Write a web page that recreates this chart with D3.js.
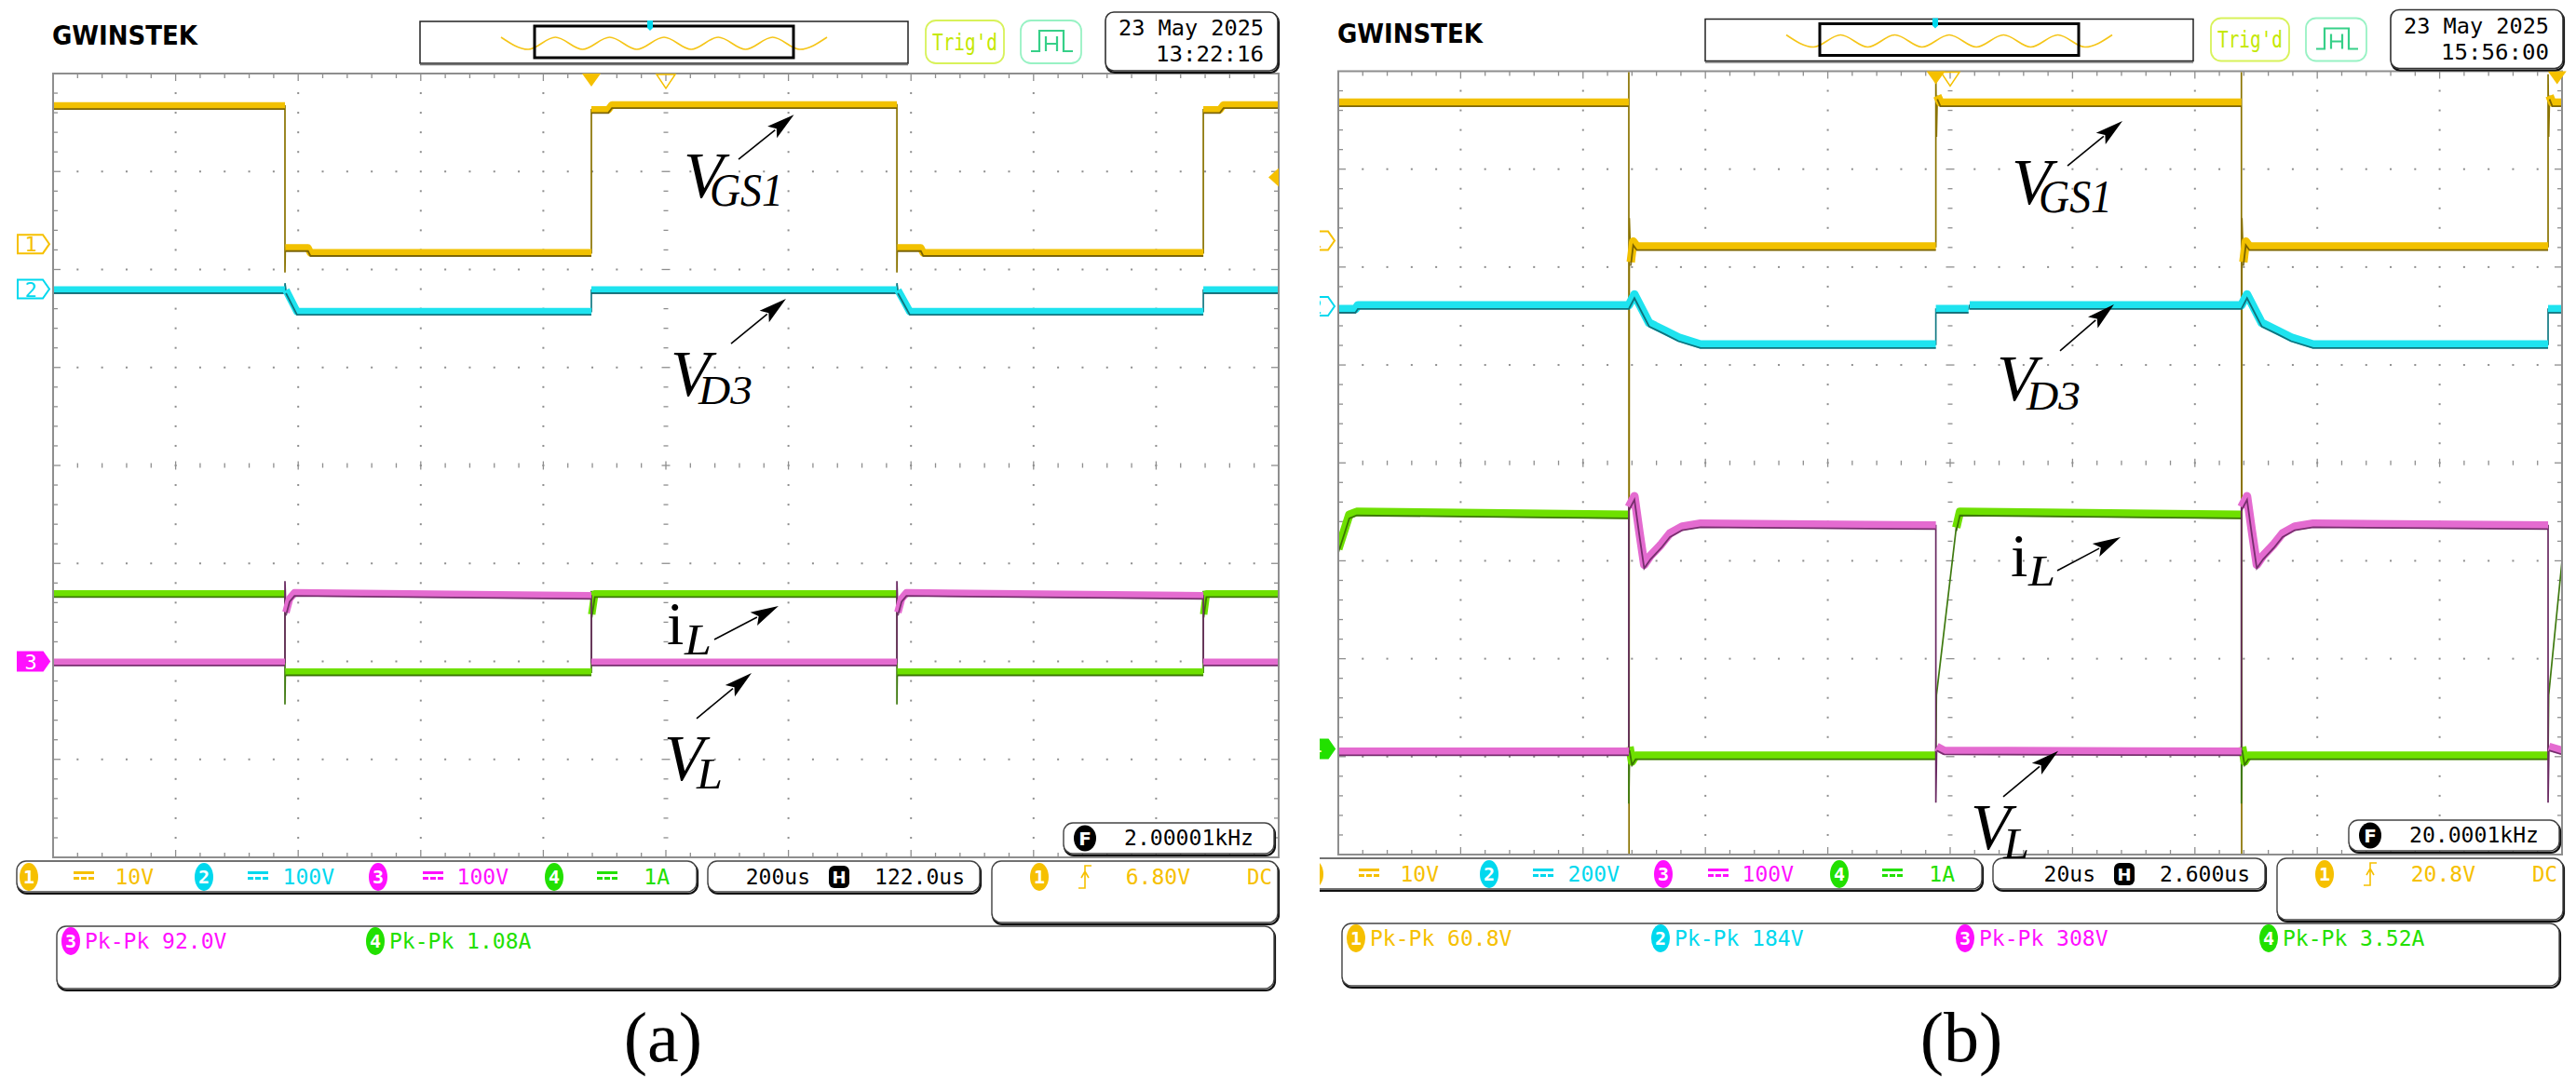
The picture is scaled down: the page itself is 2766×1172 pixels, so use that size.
<!DOCTYPE html>
<html><head><meta charset="utf-8">
<script src="https://cdn.jsdelivr.net/npm/d3@7"></script>
<style>body{margin:0;background:#fff}svg{display:block}</style>
</head><body>
<svg id="c" width="2766" height="1172"></svg>
<script>
// ===== DATA (time in screen divisions 0..10, level in divisions -4..4) =====
const aCh1 = [[0,3.67],[1.892,3.67],[1.892,1.97],[1.895,2.22],[2.08,2.22],[2.10,2.17],[4.392,2.17],[4.392,3.63],[4.53,3.63],[4.56,3.68],[6.885,3.68],[6.885,1.97],[6.888,2.22],[7.08,2.22],[7.10,2.17],[9.385,2.17],[9.385,3.63],[9.52,3.63],[9.55,3.68],[10,3.68]];
const aCh2 = [[0,1.79],[1.892,1.79],[1.892,1.86],[1.90,1.79],[1.99,1.57],[4.392,1.57],[4.392,1.79],[6.885,1.79],[6.885,1.86],[6.893,1.79],[6.99,1.57],[9.385,1.57],[9.385,1.79],[10,1.79]];
const aCh3 = [[0,-2.01],[1.892,-2.01],[1.892,-1.18],[1.90,-1.50],[1.93,-1.36],[1.97,-1.30],[4.392,-1.33],[4.392,-2.01],[6.885,-2.01],[6.885,-1.18],[6.893,-1.50],[6.923,-1.36],[6.963,-1.30],[9.385,-1.33],[9.385,-2.01],[10,-2.01]];
const aCh4 = [[0,-1.31],[1.892,-1.31],[1.892,-2.44],[1.895,-2.11],[4.392,-2.11],[4.392,-1.28],[4.395,-1.52],[4.42,-1.31],[6.885,-1.31],[6.885,-2.44],[6.888,-2.11],[9.385,-2.11],[9.385,-1.28],[9.388,-1.52],[9.41,-1.31],[10,-1.31]];

const bCh1 = [[0,3.68],[2.374,3.68],[2.374,4.0],[2.376,-4.0],[2.378,2.5],[2.39,2.05],[2.41,2.26],[2.44,2.21],[4.883,2.21],[4.883,3.97],[4.888,3.33],[4.895,3.75],[4.92,3.68],[7.38,3.68],[7.38,4.0],[7.382,-4.0],[7.384,2.5],[7.396,2.05],[7.416,2.26],[7.446,2.21],[9.886,2.21],[9.886,3.97],[9.891,3.33],[9.898,3.75],[9.92,3.68],[10,3.68]];
const bCh2 = [[0,1.57],[0.14,1.57],[0.16,1.61],[2.374,1.61],[2.42,1.72],[2.54,1.43],[2.67,1.35],[2.78,1.28],[2.96,1.21],[4.883,1.21],[4.883,1.57],[5.15,1.57],[5.16,1.61],[7.38,1.61],[7.426,1.72],[7.546,1.43],[7.676,1.35],[7.786,1.28],[7.966,1.21],[9.886,1.21],[9.886,1.57],[10,1.57]];
const bCh3 = [[0,-2.95],[2.374,-2.95],[2.374,-0.45],[2.42,-0.34],[2.46,-0.70],[2.50,-1.04],[2.55,-0.95],[2.64,-0.83],[2.71,-0.72],[2.81,-0.65],[2.96,-0.62],[4.883,-0.64],[4.883,-3.47],[4.89,-2.90],[4.95,-2.94],[7.38,-2.95],[7.38,-0.45],[7.426,-0.34],[7.466,-0.70],[7.506,-1.04],[7.556,-0.95],[7.646,-0.83],[7.716,-0.72],[7.816,-0.65],[7.966,-0.62],[9.886,-0.64],[9.886,-3.47],[9.893,-2.90],[10,-2.94]];
const bCh4 = [[0,-0.88],[0.09,-0.53],[0.15,-0.50],[2.374,-0.53],[2.374,-3.48],[2.38,-2.90],[2.40,-3.05],[2.43,-2.99],[4.883,-2.99],[4.888,-2.37],[5.05,-0.66],[5.08,-0.50],[7.38,-0.53],[7.38,-3.48],[7.386,-2.90],[7.406,-3.05],[7.436,-2.99],[9.886,-2.99],[9.891,-2.37],[10,-1.0]];

const aChannelScales = ["10V","100V","100V","1A"];
const bChannelScales = ["10V","200V","100V","1A"];
const aTimebase = ["200us","122.0us"];
const bTimebase = ["20us","2.600us"];
const aTrigger = ["6.80V","DC"];
const bTrigger = ["20.8V","DC"];
const aFreq = "2.00001kHz";
const bFreq = "20.0001kHz";
const aDate = ["23 May 2025","13:22:16"];
const bDate = ["23 May 2025","15:56:00"];
const aMeasure = [[3,"Pk-Pk 92.0V"],[4,"Pk-Pk 1.08A"]];
const bMeasure = [[1,"Pk-Pk 60.8V"],[2,"Pk-Pk 184V"],[3,"Pk-Pk 308V"],[4,"Pk-Pk 3.52A"]];
const aGroundMarkers = [[1,2.26],[2,1.80],[3,-2.00]];
const bGroundMarkers = [[1,2.27],[2,1.60],[4,-2.92]];
const aTrigLevel = [2.94];
const bTrigLevel = [];
const aTrigTimes = [4.392];
const bTrigTimes = [4.883, 9.96];
const overviewWave = [1,-1,1,-1,1,-1,1,-1,1,-1,1,-1,1];
const panelLetters = ["(a)","(b)"];

// annotation layout (positions in division units)
const aAnnot = [
 {main:'V',it:true,ms:70,sub:'GS1',ss:50,sw:79,m:[5.144,2.735],s:[5.357,2.650],from:[5.593,3.124],to:[6.045,3.580]},
 {main:'V',it:true,ms:70,sub:'D3',ss:45,sw:58,m:[5.038,0.712],s:[5.266,0.627],from:[5.532,1.244],to:[5.980,1.700]},
 {main:'i',it:false,ms:66,sub:'L',ss:47,sw:29,m:[5.008,-1.823],s:[5.152,-1.928],from:[5.395,-1.776],to:[5.919,-1.434]},
 {main:'V',it:true,ms:70,sub:'L',ss:47,sw:28,m:[4.985,-3.210],s:[5.251,-3.295],from:[5.251,-2.583],to:[5.699,-2.118]}
];
const bAnnot = [
 {main:'V',it:true,ms:70,sub:'GS1',ss:50,sw:79,m:[5.502,2.645],s:[5.723,2.560],from:[5.959,3.035],to:[6.408,3.492]},
 {main:'V',it:true,ms:70,sub:'D3',ss:45,sw:58,m:[5.381,0.640],s:[5.624,0.545],from:[5.898,1.144],to:[6.339,1.619]},
 {main:'i',it:false,ms:66,sub:'L',ss:47,sw:29,m:[5.495,-1.157],s:[5.639,-1.252],from:[5.875,-1.100],to:[6.393,-0.758]},
 {main:'V',it:true,ms:70,sub:'L',ss:47,sw:28,m:[5.167,-3.942],s:[5.434,-4.037],from:[5.434,-3.409],to:[5.883,-2.942]}
];

// ===== STYLE =====
const scopeFont = "'DejaVu Sans Mono','Liberation Mono',monospace";
const mathFont = "'Liberation Serif','DejaVu Serif',serif";
const chText = {1:'#f6c000',2:'#00d8ee',3:'#ff10ff',4:'#22e000'};
const chTrace = {
  1:{color:'#f2c100',dark:'#5e4c00',thin:'#8a7300'},
  2:{color:'#1ee3ef',dark:'#0b5660',thin:'#127a84'},
  3:{color:'#e46bd0',dark:'#5b1f55',thin:'#6a2a62'},
  4:{color:'#6ee000',dark:'#2d5c00',thin:'#3f7a10'}
};

const svg = d3.select('#c');
const defs = svg.append('defs');

function mtext(g,str,x,cy,o){
  const size=o.size||23, w=o.width||str.length*13.85;
  const x0 = o.anchor==='end'? x-w : x;
  return g.append('text').attr('x',x0).attr('y',cy+size*0.36)
    .attr('font-family',o.font||scopeFont).attr('font-size',size)
    .attr('font-weight',o.weight||'normal')
    .attr('fill',o.color||'#000').attr('textLength',w)
    .attr('lengthAdjust','spacingAndGlyphs').text(str);
}
function box(g,x,y,w,h,o){
  o=o||{};
  if(!o.noShadow) g.append('rect').attr('x',x+1).attr('y',y+2).attr('width',w).attr('height',h).attr('rx',o.rx||9)
     .attr('fill','none').attr('stroke','#111').attr('stroke-width',2.2);
  g.append('rect').attr('x',x).attr('y',y).attr('width',w).attr('height',h).attr('rx',o.rx||9)
   .attr('fill','#fff').attr('stroke',o.stroke||'#444').attr('stroke-width',o.sw||1.4);
}
function chCircle(g,cx,cy,ch,color){
  g.append('ellipse').attr('cx',cx).attr('cy',cy).attr('rx',10).attr('ry',15).attr('fill',color);
  g.append('text').attr('x',cx).attr('y',cy+7).attr('text-anchor','middle').attr('font-family',scopeFont)
   .attr('font-size',20).attr('font-weight','bold').attr('fill','#fff').text(ch);
}
function dcIcon(g,x,cy,color){
  g.append('rect').attr('x',x).attr('y',cy-5).attr('width',22).attr('height',3).attr('fill',color);
  [0,1,2].forEach(i=>g.append('rect').attr('x',x+i*8).attr('y',cy+1).attr('width',6).attr('height',3).attr('fill',color));
}

function drawTrace(g,data,x,y,st,bw){
  const line=d3.line().x(d=>x(d[0])).y(d=>y(d[1]));
  g.append('path').attr('d',line(data)).attr('fill','none').attr('stroke',st.thin).attr('stroke-width',1.7);
  const runs=[]; let cur=null;
  for(let i=0;i<data.length-1;i++){
    const p=data[i],q=data[i+1];
    const dx=Math.abs(x(q[0])-x(p[0])), dy=Math.abs(y(q[1])-y(p[1]));
    if(dx>=1.5 && dy<40){ if(!cur){cur=[p];runs.push(cur);} cur.push(q);} else cur=null;
  }
  runs.forEach(r=>{
    g.append('path').attr('d',line(r)).attr('fill','none').attr('stroke',st.color).attr('stroke-width',bw).attr('stroke-linejoin','round');
    g.append('path').attr('d',line(r)).attr('transform',`translate(0,${bw/2-0.6})`).attr('fill','none').attr('stroke',st.dark).attr('stroke-width',1.8).attr('opacity',0.8);
  });
}

function drawGrid(g,x,y){
  const col='#8e8e8e';
  const minT=d3.range(0,50.5,1).map(i=>i/5), minV=d3.range(-20,20.5,1).map(i=>i/5);
  const dots=[];
  [1,2,3,4,6,7,8,9].forEach(t=>minV.forEach(v=>{ if(Math.abs(v)<3.99) dots.push([t,v]); }));
  [-3,-2,-1,1,2,3].forEach(v=>minT.forEach(t=>{ if(t>0.01&&t<9.99&&Math.abs(t-Math.round(t))>0.01) dots.push([t,v]); }));
  g.append('g').selectAll('rect').data(dots).join('rect')
   .attr('x',d=>x(d[0])-1).attr('y',d=>y(d[1])-1).attr('width',2).attr('height',2).attr('fill',col);
  const ticks=[];
  const isMaj=v=>Math.abs(v-Math.round(v))<0.01;
  minT.forEach(t=>{ if(t<=0.01||t>=9.99) return; const L=isMaj(t)?4.5:2.5;
    ticks.push([x(t),y(0)-L,x(t),y(0)+L]);
    const B=isMaj(t)?8:5; ticks.push([x(t),y(4),x(t),y(4)+B]); ticks.push([x(t),y(-4),x(t),y(-4)-B]); });
  minV.forEach(v=>{ if(Math.abs(v)>=3.99) return; const L=isMaj(v)?4.5:2.5;
    ticks.push([x(5)-L,y(v),x(5)+L,y(v)]);
    const B=isMaj(v)?8:5; ticks.push([x(0),y(v),x(0)+B,y(v)]); ticks.push([x(10),y(v),x(10)-B,y(v)]); });
  g.append('g').selectAll('line').data(ticks).join('line')
   .attr('x1',d=>d[0]).attr('y1',d=>d[1]).attr('x2',d=>d[2]).attr('y2',d=>d[3])
   .attr('stroke',col).attr('stroke-width',1.3);
  g.append('rect').attr('x',x(0)).attr('y',y(4)).attr('width',x(10)-x(0)).attr('height',y(-4)-y(4))
   .attr('fill','none').attr('stroke',col).attr('stroke-width',2);
}

function drawPanel(cfg){
  defs.append('clipPath').attr('id','clip-'+cfg.key).append('rect')
    .attr('x',cfg.clipX0).attr('y',0).attr('width',cfg.clipX1-cfg.clipX0).attr('height',1172);
  defs.append('clipPath').attr('id','gclip-'+cfg.key).append('rect')
    .attr('x',cfg.gx0+1).attr('y',cfg.gy0+1).attr('width',cfg.gx1-cfg.gx0-2).attr('height',cfg.gy1-cfg.gy0-2);
  const g=svg.append('g').attr('clip-path',`url(#clip-${cfg.key})`);
  const x=d3.scaleLinear().domain([0,10]).range([cfg.gx0,cfg.gx1]);
  const y=d3.scaleLinear().domain([-4,4]).range([cfg.gy1,cfg.gy0]);
  const X=cfg.gx0, T=cfg.gy0, B=cfg.gy1;

  drawGrid(g,x,y);
  const tg=g.append('g').attr('clip-path',`url(#gclip-${cfg.key})`);
  [[1,cfg.ch[0]],[2,cfg.ch[1]],[4,cfg.ch[3]],[3,cfg.ch[2]]].forEach(([c,d])=>drawTrace(tg,d,x,y,chTrace[c],cfg.bw));

  // ground markers
  cfg.markers.forEach(([c,v])=>{
    const cy=y(v), x0=X-38;
    const filled = c>=3;
    g.append('polygon').attr('points',[[x0,cy-10],[x0+27,cy-10],[x0+34,cy],[x0+27,cy+10],[x0,cy+10]].map(p=>p.join(',')).join(' '))
     .attr('fill',filled?chText[c]:'#fff').attr('stroke',chText[c]).attr('stroke-width',2);
    g.append('text').attr('x',x0+14).attr('y',cy+8).attr('text-anchor','middle').attr('font-family',scopeFont)
     .attr('font-size',22).attr('fill',filled?'#fff':chText[c]).text(c);
  });
  cfg.trigLevel.forEach(v=>{ const cy=y(v);
    g.append('polygon').attr('points',`${x(10)},${cy-10} ${x(10)-11},${cy} ${x(10)},${cy+10}`).attr('fill','#f5c000'); });
  cfg.trigTimes.forEach(t=>{ const cx=x(t);
    g.append('polygon').attr('points',`${cx-10},${T} ${cx+10},${T} ${cx},${T+14}`).attr('fill','#f5c000'); });
  { const cx=x(5);
    g.append('polygon').attr('points',`${cx-10},${T+1} ${cx+10},${T+1} ${cx},${T+16}`).attr('fill','none').attr('stroke','#f5c000').attr('stroke-width',1.5); }

  // ---- header ----
  mtext(g,'GWINSTEK',X-1,T-41,{size:29,width:156,weight:'bold',font:"'Liberation Sans Narrow','DejaVu Sans Condensed',sans-serif"});
  g.append('rect').attr('x',X+394).attr('y',T-56).attr('width',524).attr('height',45).attr('fill','#fff').attr('stroke','#222').attr('stroke-width',1.5);
  g.append('line').attr('x1',X+394).attr('x2',X+918).attr('y1',T-9.5).attr('y2',T-9.5).attr('stroke','#777').attr('stroke-width',1.5);
  const wx=d3.scaleLinear().domain([0,overviewWave.length-1]).range([X+481,X+831]);
  const wy=d3.scaleLinear().domain([-1,1]).range([T-26,T-39]);
  g.append('path').attr('d',d3.line().x((d,i)=>wx(i)).y(d=>wy(d)).curve(d3.curveMonotoneX)(overviewWave))
   .attr('fill','none').attr('stroke','#f5c518').attr('stroke-width',1.6);
  g.append('rect').attr('x',X+517).attr('y',T-51).attr('width',278).attr('height',34).attr('fill','none').attr('stroke','#000').attr('stroke-width',3);
  g.append('polygon').attr('points',`${X+638},${T-57} ${X+644},${T-57} ${X+644},${T-49} ${X+641},${T-46} ${X+638},${T-49}`).attr('fill','#00d8ee');
  box(g,X+937,T-57,84,46,{noShadow:true,stroke:'#d8f25a',sw:1.8,rx:11});
  mtext(g,"Trig'd",X+944,T-34,{size:24,width:70,color:'#c4e800'});
  box(g,X+1039,T-57,65,46,{noShadow:true,stroke:'#98f2c4',sw:1.8,rx:11});
  const px=X+1050, py0=T-24, py1=T-46;
  g.append('path').attr('d',`M${px},${py0} H${px+9} V${py1} H${px+35} V${py0} H${px+45} M${px+16},${py1+6} V${py0} M${px+28},${py1+6} V${py0} M${px+16},${py1+14} H${px+28}`)
   .attr('fill','none').attr('stroke','#36d088').attr('stroke-width',2.2);
  box(g,X+1130,T-66,185,63,{rx:9,stroke:'#333',sw:1.6});
  mtext(g,cfg.date[0],X+1300,T-49,{size:23,width:156,anchor:'end'});
  mtext(g,cfg.date[1],X+1300,T-21,{size:23,width:116,anchor:'end'});

  // ---- bottom ----
  box(g,X+1085,B-37,226,33,{rx:10});
  g.append('ellipse').attr('cx',X+1108).attr('cy',B-20.5).attr('rx',12).attr('ry',14).attr('fill','#000');
  g.append('text').attr('x',X+1108).attr('y',B-13).attr('text-anchor','middle').attr('font-family',"'DejaVu Sans',sans-serif").attr('font-weight','bold').attr('font-size',20).attr('fill','#fff').text('F');
  mtext(g,cfg.freq,X+1150,B-21,{size:23,width:139});

  box(g,X-39,B+4,730,33,{rx:10});
  const cc=[-26,162,349,538], ic=[22,209,397,584], tr=[108,302,489,662];
  cfg.scales.forEach((s,i)=>{
    const c=i+1;
    chCircle(g,X+cc[i],B+21,c,chText[c]);
    dcIcon(g,X+ic[i],B+20,chText[c]);
    mtext(g,s,X+tr[i],B+21,{anchor:'end',color:chText[c]});
  });
  box(g,X+703,B+4,292,33,{rx:10});
  mtext(g,cfg.timebase[0],X+813,B+21,{anchor:'end'});
  g.append('rect').attr('x',X+833).attr('y',B+9).attr('width',22).attr('height',24).attr('rx',6).attr('fill','#000');
  g.append('text').attr('x',X+844).attr('y',B+28).attr('text-anchor','middle').attr('font-family',"'DejaVu Sans',sans-serif").attr('font-weight','bold').attr('font-size',18).attr('fill','#fff').text('H');
  mtext(g,cfg.timebase[1],X+979,B+21,{anchor:'end'});
  box(g,X+1008,B+4,307,66,{rx:10});
  chCircle(g,X+1059,B+21,1,chText[1]);
  const ex=X+1108, ey=B+21;
  g.append('path').attr('d',`M${ex-7},${ey+12} H${ex} V${ey-12} H${ex+7} M${ex-4},${ey+1} L${ex},${ey-6} L${ex+4},${ey+1}`)
   .attr('fill','none').attr('stroke',chText[1]).attr('stroke-width',1.6);
  mtext(g,cfg.trigger[0],X+1221,B+21,{anchor:'end',color:chText[1]});
  mtext(g,cfg.trigger[1],X+1282,B+21,{width:27,color:chText[1]});

  box(g,X+4,B+74,1307,67,{rx:10});
  const slots=[19,346,673,999];
  cfg.measure.forEach(([c,s],i)=>{
    chCircle(g,X+slots[i],B+90,c,chText[c]);
    mtext(g,s,X+slots[i]+15,B+90,{color:chText[c]});
  });

  svg.append('text').attr('x',cfg.letterX).attr('y',1140).attr('text-anchor','middle').attr('font-family',mathFont)
   .attr('font-size',76).attr('fill','#000').text(cfg.letter);

  // annotations: one text element per label, main + subscript tspans
  const ag=svg.append('g');
  cfg.annot.forEach(a=>{
    const t=ag.append('text').attr('font-family',mathFont).attr('fill','#000');
    t.append('tspan').attr('x',x(a.m[0])).attr('y',y(a.m[1]))
      .attr('font-style',a.it?'italic':'normal').attr('font-size',a.ms).text(a.main);
    t.append('tspan').attr('x',x(a.s[0])).attr('y',y(a.s[1]))
      .attr('font-style','italic').attr('font-size',a.ss).attr('textLength',a.sw).attr('lengthAdjust','spacingAndGlyphs').text(a.sub);
    const x1=x(a.from[0]),y1=y(a.from[1]),x2=x(a.to[0]),y2=y(a.to[1]);
    const L=Math.hypot(x2-x1,y2-y1), ux=(x2-x1)/L, uy=(y2-y1)/L, hl=30, hw=8;
    const bx=x2-ux*hl, by=y2-uy*hl;
    ag.append('line').attr('x1',x1).attr('y1',y1).attr('x2',bx+ux*4).attr('y2',by+uy*4).attr('stroke','#000').attr('stroke-width',1.6);
    ag.append('polygon').attr('points',`${x2},${y2} ${bx-uy*hw},${by+ux*hw} ${bx+ux*6},${by+uy*6} ${bx+uy*hw},${by-ux*hw}`).attr('fill','#000');
  });
}

drawPanel({key:'a',gx0:57,gx1:1373,gy0:79,gy1:921,clipX0:14,clipX1:1400,bw:8,
  ch:[aCh1,aCh2,aCh3,aCh4],markers:aGroundMarkers,trigLevel:aTrigLevel,trigTimes:aTrigTimes,
  date:aDate,freq:aFreq,scales:aChannelScales,timebase:aTimebase,trigger:aTrigger,measure:aMeasure,
  letter:panelLetters[0],letterX:712,annot:aAnnot});
drawPanel({key:'b',gx0:1437,gx1:2751,gy0:76.5,gy1:918,clipX0:1417,clipX1:2766,bw:9,
  ch:[bCh1,bCh2,bCh3,bCh4],markers:bGroundMarkers,trigLevel:bTrigLevel,trigTimes:bTrigTimes,
  date:bDate,freq:bFreq,scales:bChannelScales,timebase:bTimebase,trigger:bTrigger,measure:bMeasure,
  letter:panelLetters[1],letterX:2106,annot:bAnnot});
</script>
</body></html>
